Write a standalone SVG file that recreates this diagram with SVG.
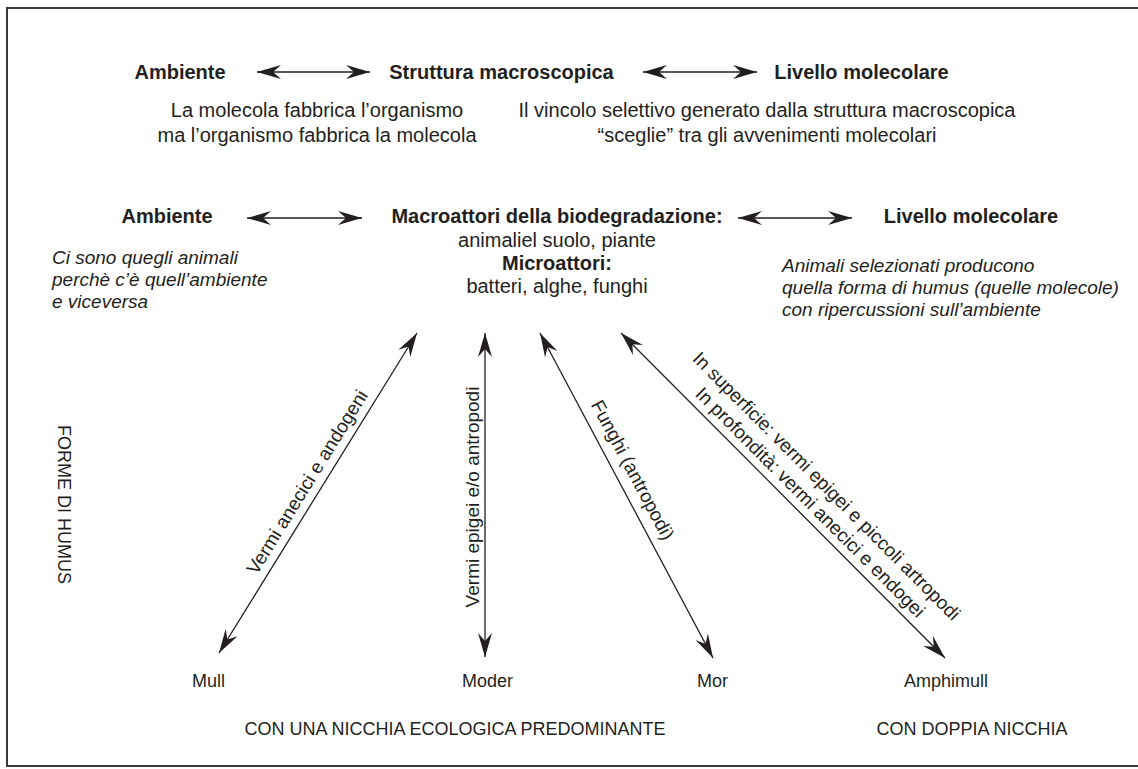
<svg xmlns="http://www.w3.org/2000/svg" width="1138" height="769" viewBox="0 0 1138 769">
<defs>
<marker id="ah" viewBox="-25 -8 26 16" refX="0" refY="0" markerWidth="26" markerHeight="16" markerUnits="userSpaceOnUse" orient="auto-start-reverse">
<path d="M0,0 L-24,-7 L-16,0 L-24,7 Z" fill="#231f20"/>
</marker>
<style>
text{font-family:"Liberation Sans",Arial,sans-serif;fill:#231f20}
.b{font-weight:bold;font-size:20px;text-anchor:middle}
.r{font-size:20px;text-anchor:middle}
.i{font-size:19px;font-style:italic}
.s{font-size:18px}
.l{font-size:19px;text-anchor:middle}
.c line{stroke:#231f20;stroke-width:1.3;marker-start:url(#ah);marker-end:url(#ah)}
</style>
</defs>
<rect width="1138" height="769" fill="#fff"/>
<rect x="7" y="8" width="1140" height="758" fill="none" stroke="#3a3a3a" stroke-width="2"/>

<g id="ambiente1"><text class="b" x="180" y="79">Ambiente</text></g>
<g id="struttura"><text class="b" x="501.5" y="79">Struttura macroscopica</text></g>
<g id="livello1"><text class="b" x="861.5" y="79">Livello molecolare</text></g>
<g id="nota1"><text class="r" x="317" y="117">La molecola fabbrica l’organismo</text><text class="r" x="317" y="142">ma l’organismo fabbrica la molecola</text></g>
<g id="nota2"><text class="r" x="767" y="117">Il vincolo selettivo generato dalla struttura macroscopica</text><text class="r" x="767" y="142">“sceglie” tra gli avvenimenti molecolari</text></g>

<g id="ambiente2"><text class="b" x="167" y="223">Ambiente</text>
<text class="i" x="52" y="264">Ci sono quegli animali</text><text class="i" x="52" y="286">perchè c’è quell’ambiente</text><text class="i" x="52" y="308">e viceversa</text></g>
<g id="attori"><text class="b" x="557" y="223">Macroattori della biodegradazione:</text>
<text class="r" x="557" y="247">animaliel suolo, piante</text>
<text class="b" x="557" y="270">Microattori:</text>
<text class="r" x="557" y="293">batteri, alghe, funghi</text></g>
<g id="livello2"><text class="b" x="971" y="223">Livello molecolare</text>
<text class="i" x="782" y="272">Animali selezionati producono</text><text class="i" x="782" y="294">quella forma di humus (quelle molecole)</text><text class="i" x="782" y="316">con ripercussioni sull’ambiente</text></g>

<g id="forme"><text class="s" transform="translate(58,425) rotate(90)">FORME DI HUMUS</text></g>

<g id="mull"><text class="s" x="192" y="687">Mull</text></g>
<g id="moder"><text class="s" x="462" y="687">Moder</text></g>
<g id="mor"><text class="s" x="697" y="687">Mor</text></g>
<g id="amphimull"><text class="s" x="904" y="687">Amphimull</text></g>

<g id="nicchia1"><text class="s" x="455" y="735" text-anchor="middle">CON UNA NICCHIA ECOLOGICA PREDOMINANTE</text></g>
<g id="nicchia2"><text class="s" x="972" y="735" text-anchor="middle">CON DOPPIA NICCHIA</text></g>

<g id="connectors" class="c">
<line x1="257" y1="72" x2="370" y2="72"/>
<line x1="643" y1="72" x2="757" y2="72"/>
<line x1="247" y1="218" x2="362" y2="218"/>
<line x1="738" y1="218" x2="852" y2="218"/>
<line x1="417" y1="333" x2="219" y2="653"/>
<line x1="485" y1="333" x2="485" y2="657"/>
<line x1="540" y1="333" x2="713" y2="658"/>
<line x1="621" y1="333" x2="945" y2="658"/>
</g>
<g id="connector-labels">
<text class="l" transform="translate(312.6,485.5) rotate(-58.25)">Vermi anecici e andogeni</text>
<text class="l" transform="translate(479,497) rotate(-90)">Vermi epigei e/o antropodi</text>
<text class="l" transform="translate(627,473) rotate(62)">Funghi (antropodi)</text>
<text class="l" transform="translate(822,490.7) rotate(45.1)">In superficie: vermi epigei e piccoli artropodi</text>
<text class="l" transform="translate(805.8,506.9) rotate(45.1)">In profondità: vermi anecici e endogei</text>
</g>
</svg>
